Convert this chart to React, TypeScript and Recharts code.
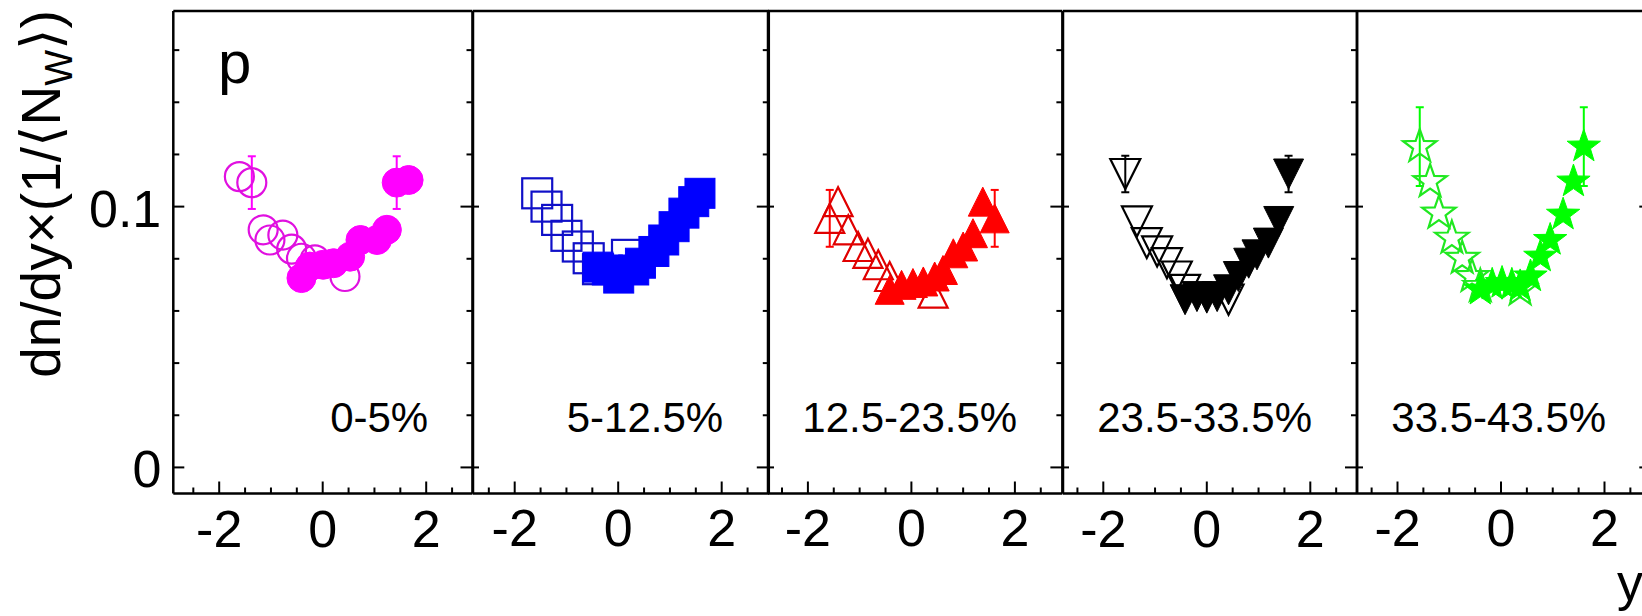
import React from 'react';
import { ScatterChart, Scatter, XAxis, YAxis, ErrorBar } from 'recharts';

type Pt = { x: number; y: number; err?: number };

// 0-5% (circles): open = reflected, filled = measured
const C1_OPEN: Pt[] = [
  { x: -1.61, y: 0.1115 },
  { x: -1.37, y: 0.1092, err: 0.0101 },
  { x: -1.15, y: 0.0911 },
  { x: -1.02, y: 0.0872 },
  { x: -0.77, y: 0.0891 },
  { x: -0.6, y: 0.0837 },
  { x: -0.41, y: 0.0802 },
  { x: -0.15, y: 0.0796 },
  { x: 0.43, y: 0.0732 },
];
const C1_FILLED: Pt[] = [
  { x: -0.41, y: 0.0726 },
  { x: -0.25, y: 0.077 },
  { x: 0.01, y: 0.0777 },
  { x: 0.21, y: 0.0783 },
  { x: 0.53, y: 0.0808 },
  { x: 0.73, y: 0.0872 },
  { x: 1.05, y: 0.0872 },
  { x: 1.24, y: 0.0911 },
  { x: 1.43, y: 0.1092, err: 0.0101 },
  { x: 1.66, y: 0.1102 },
];

// 5-12.5% (squares)
const C2_OPEN: Pt[] = [
  { x: -1.565, y: 0.1051 },
  { x: -1.385, y: 0.1 },
  { x: -1.18, y: 0.0949 },
  { x: -1.0, y: 0.0888 },
  { x: -0.78, y: 0.0847 },
  { x: -0.57, y: 0.0802 },
  { x: -0.39, y: 0.076 },
  { x: 0.17, y: 0.0815 },
];
const C2_FILLED: Pt[] = [
  { x: -0.39, y: 0.0768 },
  { x: -0.21, y: 0.0757 },
  { x: 0.01, y: 0.0726 },
  { x: 0.3, y: 0.0757 },
  { x: 0.43, y: 0.0783 },
  { x: 0.69, y: 0.0828 },
  { x: 0.88, y: 0.0872 },
  { x: 1.08, y: 0.0923 },
  { x: 1.27, y: 0.0975 },
  { x: 1.46, y: 0.1019 },
  { x: 1.58, y: 0.1051 },
];

// 12.5-23.5% (triangles up)
const C3_OPEN: Pt[] = [
  { x: -1.578, y: 0.0955, err: 0.0109 },
  { x: -1.417, y: 0.1019 },
  { x: -1.22, y: 0.0911 },
  { x: -1.03, y: 0.0847 },
  { x: -0.84, y: 0.0821 },
  { x: -0.64, y: 0.0777 },
  { x: -0.42, y: 0.0732 },
  { x: 0.42, y: 0.0668 },
];
const C3_FILLED: Pt[] = [
  { x: -0.42, y: 0.0681 },
  { x: -0.19, y: 0.07 },
  { x: 0.03, y: 0.0707 },
  { x: 0.23, y: 0.0713 },
  { x: 0.45, y: 0.0732 },
  { x: 0.61, y: 0.0757 },
  { x: 0.81, y: 0.0821 },
  { x: 1.0, y: 0.0847 },
  { x: 1.19, y: 0.0898 },
  { x: 1.38, y: 0.1019 },
  { x: 1.61, y: 0.0955, err: 0.0109 },
];

// 23.5-33.5% (triangles down)
const C4_OPEN: Pt[] = [
  { x: -1.575, y: 0.1125, err: 0.007 },
  { x: -1.35, y: 0.0943 },
  { x: -1.16, y: 0.086 },
  { x: -0.96, y: 0.0828 },
  { x: -0.77, y: 0.0783 },
  { x: -0.58, y: 0.0732 },
  { x: -0.42, y: 0.0681 },
  { x: 0.42, y: 0.0643 },
];
const C4_FILLED: Pt[] = [
  { x: -0.42, y: 0.0643 },
  { x: -0.19, y: 0.0655 },
  { x: 0.0, y: 0.0649 },
  { x: 0.2, y: 0.0655 },
  { x: 0.42, y: 0.0681 },
  { x: 0.61, y: 0.0732 },
  { x: 0.81, y: 0.0783 },
  { x: 0.97, y: 0.0815 },
  { x: 1.19, y: 0.086 },
  { x: 1.39, y: 0.0943 },
  { x: 1.58, y: 0.1125, err: 0.007 },
];

// 33.5-43.5% (stars)
const C5_OPEN: Pt[] = [
  { x: -1.57, y: 0.123, err: 0.0151 },
  { x: -1.37, y: 0.1096 },
  { x: -1.2, y: 0.0975 },
  { x: -0.95, y: 0.0879 },
  { x: -0.75, y: 0.0802 },
  { x: -0.56, y: 0.0732 },
  { x: -0.4, y: 0.0694 },
  { x: 0.37, y: 0.0681 },
];
const C5_FILLED: Pt[] = [
  { x: -0.4, y: 0.0681 },
  { x: -0.17, y: 0.07 },
  { x: 0.02, y: 0.0707 },
  { x: 0.21, y: 0.07 },
  { x: 0.37, y: 0.0694 },
  { x: 0.57, y: 0.0732 },
  { x: 0.76, y: 0.0808 },
  { x: 0.95, y: 0.0872 },
  { x: 1.2, y: 0.0969 },
  { x: 1.4, y: 0.1096 },
  { x: 1.6, y: 0.123, err: 0.0151 },
];

const OPEN_SERIES = [C1_OPEN, C2_OPEN, C3_OPEN, C4_OPEN, C5_OPEN];
const FILLED_SERIES = [C1_FILLED, C2_FILLED, C3_FILLED, C4_FILLED, C5_FILLED];
const CENTRALITY = ['0-5%', '5-12.5%', '12.5-23.5%', '23.5-33.5%', '33.5-43.5%'];
const COLORS = ['#ff00ff', '#0000ff', '#ff0000', '#000000', '#00ff00'];
const OPEN_COLORS = ['#e010e0', '#1010c8', '#e00000', '#000000', '#20e820'];
const MARKERS = ['circle', 'square', 'triUp', 'triDown', 'star'];

const X_TICKS = [-2.5, -2, -1.5, -1, -0.5, 0, 0.5, 1, 1.5, 2, 2.5];
const Y_TICKS = [0, 0.02, 0.04, 0.06, 0.08, 0.1, 0.12, 0.14, 0.16];
const Y_DOMAIN: [number, number] = [-0.01, 0.175];

// layout (pixels)
const W = 1642;
const H = 616;
const TOP = 11;
const BOTTOM = 493.5;
const PANEL_LEFT = [173.3, 472.5, 768.3, 1062.7, 1356.7, 1651];
const PANEL_ZERO = [322.7, 617.7, 911.7, 1206.5, 1500.7];
const PX_PER_UNIT = 51.75;
const FONT = '"Liberation Sans", Arial, "DejaVu Sans", sans-serif';

const isMajorY = (v: number) => Math.abs(v) < 1e-9 || Math.abs(v - 0.1) < 1e-9;

function Marker({ cx, cy, kind, color, open }: any) {
  if (cx == null || cy == null) return <g />;
  const fill = open ? 'none' : color;
  const sw = open ? 2.2 : 1;
  if (kind === 'circle') {
    return <circle cx={cx} cy={cy} r={14.5} fill={fill} stroke={color} strokeWidth={sw} />;
  }
  if (kind === 'square') {
    return <rect x={cx - 15} y={cy - 15} width={30} height={30} fill={fill} stroke={color} strokeWidth={sw} />;
  }
  if (kind === 'triUp') {
    const pts = `${cx - 14.5},${cy + 14.5} ${cx + 14.5},${cy + 14.5} ${cx},${cy - 14.5}`;
    return <polygon points={pts} fill={fill} stroke={color} strokeWidth={sw} />;
  }
  if (kind === 'triDown') {
    const pts = `${cx - 15},${cy - 15} ${cx + 15},${cy - 15} ${cx},${cy + 15}`;
    return <polygon points={pts} fill={fill} stroke={color} strokeWidth={sw} />;
  }
  // star
  const pts: string[] = [];
  for (let i = 0; i < 10; i++) {
    const r = i % 2 === 0 ? 17.5 : 7;
    const a = -Math.PI / 2 + (i * Math.PI) / 5;
    pts.push(`${cx + r * Math.cos(a)},${cy + r * Math.sin(a)}`);
  }
  return <polygon points={pts.join(' ')} fill={fill} stroke={color} strokeWidth={sw} strokeLinejoin="miter" />;
}

const BottomTick = ({ x, y, payload }: any) => {
  const v = payload.value;
  const major = Math.abs(v % 2) < 1e-9;
  return (
    <g>
      <line x1={x} y1={y} x2={x} y2={y - (major ? 12 : 6)} stroke="#000" strokeWidth={2} />
      {major && (
        <text x={x} y={y + 53} textAnchor="middle" fontSize={52} fontFamily={FONT} fill="#000">
          {String(v)}
        </text>
      )}
    </g>
  );
};

const TopTick = ({ x, y, payload }: any) => {
  const major = Math.abs(payload.value % 2) < 1e-9;
  return <line x1={x} y1={y} x2={x} y2={y + (major ? 12 : 6)} stroke="#000" strokeWidth={2} />;
};

const RightTick = ({ x, y, payload }: any) => {
  const major = isMajorY(payload.value);
  return <line x1={x} y1={y} x2={x - (major ? 12 : 6)} y2={y} stroke="#000" strokeWidth={2} />;
};

const LeftTick = ({ x, y, payload, first }: any) => {
  const v = payload.value;
  const major = isMajorY(v);
  if (!first) {
    return major ? <line x1={x} y1={y} x2={x + 6} y2={y} stroke="#000" strokeWidth={2} /> : <g />;
  }
  return (
    <g>
      <line x1={x} y1={y} x2={x + (major ? 11 : 6)} y2={y} stroke="#000" strokeWidth={2} />
      {major && (
        <text x={x - 12} y={y + 20} textAnchor="end" fontSize={52} fontFamily={FONT} fill="#000">
          {v === 0 ? '0' : '0.1'}
        </text>
      )}
    </g>
  );
};

function Panel({ i }: { i: number }) {
  const L = PANEL_LEFT[i];
  const R = PANEL_LEFT[i + 1];
  const Z = PANEL_ZERO[i];
  const padL = i === 0 ? L : 3;
  const padR = 3;
  const xDomain: [number, number] = [(L - Z) / PX_PER_UNIT, (R - Z) / PX_PER_UNIT];
  const color = COLORS[i];
  const openColor = OPEN_COLORS[i];
  const kind = MARKERS[i];
  const open = OPEN_SERIES[i];
  const filled = FILLED_SERIES[i];
  const withErr = [...open, ...filled].filter((p) => p.err);
  const axisLine = { stroke: '#000', strokeWidth: 2.5 };

  return (
    <div style={{ position: 'absolute', left: L - padL, top: 0 }}>
      <ScatterChart
        width={padL + (R - L) + padR}
        height={H}
        margin={{ top: 0, right: 0, bottom: 0, left: 0 }}
      >
        <XAxis
          xAxisId="b"
          dataKey="x"
          type="number"
          domain={xDomain}
          allowDataOverflow
          ticks={X_TICKS}
          interval={0}
          height={H - BOTTOM}
          tickSize={0}
          tickMargin={0}
          tickLine={false}
          axisLine={axisLine}
          tick={(p: any) => <BottomTick {...p} />}
        />
        <XAxis
          xAxisId="t"
          orientation="top"
          type="number"
          domain={xDomain}
          allowDataOverflow
          ticks={X_TICKS}
          interval={0}
          height={TOP}
          tickSize={0}
          tickMargin={0}
          tickLine={false}
          axisLine={axisLine}
          tick={(p: any) => <TopTick {...p} />}
        />
        <YAxis
          yAxisId="l"
          dataKey="y"
          type="number"
          domain={Y_DOMAIN}
          allowDataOverflow
          ticks={Y_TICKS}
          interval={0}
          width={padL}
          tickSize={0}
          tickMargin={0}
          tickLine={false}
          axisLine={axisLine}
          tick={(p: any) => <LeftTick {...p} first={i === 0} />}
        />
        <YAxis
          yAxisId="r"
          orientation="right"
          type="number"
          domain={Y_DOMAIN}
          allowDataOverflow
          ticks={Y_TICKS}
          interval={0}
          width={padR}
          tickSize={0}
          tickMargin={0}
          tickLine={false}
          axisLine={axisLine}
          tick={(p: any) => <RightTick {...p} />}
        />
        <Scatter
          xAxisId="b"
          yAxisId="l"
          data={open}
          isAnimationActive={false}
          shape={(p: any) => <Marker cx={p.cx} cy={p.cy} kind={kind} color={openColor} open />}
        />
        <Scatter
          xAxisId="b"
          yAxisId="l"
          data={filled}
          isAnimationActive={false}
          shape={(p: any) => <Marker cx={p.cx} cy={p.cy} kind={kind} color={color} open={false} />}
        />
        <Scatter
          xAxisId="b"
          yAxisId="l"
          data={withErr}
          isAnimationActive={false}
          shape={() => <g />}
        >
          <ErrorBar dataKey="err" direction="y" width={4} stroke={color} strokeWidth={2} isAnimationActive={false} />
        </Scatter>
      </ScatterChart>
    </div>
  );
}

export default function App() {
  return (
    <div
      style={{
        position: 'absolute',
        left: 0,
        top: 0,
        width: W,
        height: H,
        overflow: 'hidden',
        background: '#fff',
      }}
    >
      {CENTRALITY.map((_, i) => (
        <Panel key={i} i={i} />
      ))}
      <svg width={W} height={H} style={{ position: 'absolute', left: 0, top: 0, pointerEvents: 'none' }}>
        <text
          transform="translate(60,194) rotate(-90)"
          textAnchor="middle"
          fontSize={55}
          fontFamily={FONT}
          fill="#000"
        >
          dn/dy×(1/⟨N
          <tspan fontSize={38} dy={12}>
            W
          </tspan>
          <tspan dy={-12}>⟩)</tspan>
        </text>
        <text x={218} y={83} fontSize={60} fontFamily={FONT} fill="#000">
          p
        </text>
        {CENTRALITY.map((c, i) => (
          <text
            key={c}
            x={PANEL_ZERO[i] + 105.5}
            y={431.7}
            textAnchor="end"
            fontSize={42}
            fontFamily={FONT}
            fill="#000"
          >
            {c}
          </text>
        ))}
        <text x={1617} y={600} fontSize={52} fontFamily={FONT} fill="#000">
          y
        </text>
      </svg>
    </div>
  );
}
